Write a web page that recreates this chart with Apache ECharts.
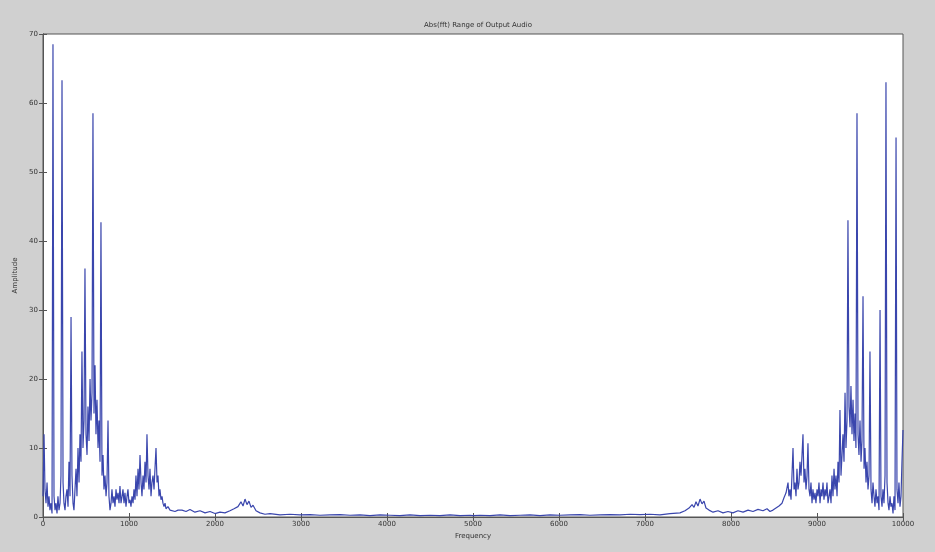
<!DOCTYPE html>
<html>
<head>
<meta charset="utf-8">
<script src="https://cdn.jsdelivr.net/npm/echarts@6/dist/echarts.min.js"></script>
<style>html,body{margin:0;padding:0;background:#d0d0d0;}#chart{width:935px;height:552px;}</style>
</head>
<body>
<div id="chart"></div>
<script>
// Left band (low frequencies)
const leftFreq = [0,12,23,35,47,58,70,81,93,105,116,128,140,151,163,174,186,198,209,221,233,244,256,267,279,291,302,314,326,337,349,360,372,384,395,407,419,430,442,453,465,477,488,500,512,523,535,547,558,570,581,593,605,616,628,640,651,663,674,686,698,709,721,733,744,756,767,779,791,802,814,826,837,849,860,872,884,895,907,919,930,942,953,965,977,988,1000,1012,1023,1035,1047,1058,1070,1081,1093,1105,1116,1128,1140,1151,1163,1174,1186,1198,1209,1221,1233,1244,1256,1267,1279,1291,1302,1314,1326,1337,1349,1360,1372,1384,1395,1407,1419,1430,1453,1477,1500,1535,1570];
const leftMag = [3,12,4,2,5,1.5,3,1,2,0.5,68.5,3,1,2,0.5,3,1,2,6,63.3,5,2,1,3,4,1.5,8,3,29,6,2,1,4,7,3,10,5,12,8,24,10,14,36,12,9,16,11,20,14,18,58.5,15,22,12,17,10,14,8,42.7,6,9,4,6,3,5,14,3,1,2,4,2,3,1.5,4,2.5,3.5,2,4.5,2,3,4,2,3.5,1.5,3,4,2,2.5,1.5,3,2,4,2.5,6,3,7,4,9,5,3,6,4,8,5,12,6,4,7,3,5,6,4,7,10,5,6,3,4,2.5,3,2,1.5,2,1.2,1.5,1,1.2,0.8,1];
// Middle band
const midFreq = [1616,1663,1709,1767,1826,1884,1942,2000,2058,2116,2174,2221,2267,2302,2326,2349,2372,2395,2419,2442,2477,2523,2581,2640,2756,2872,2988,3105,3221,3337,3453,3570,3686,3802,3919,4035,4151,4267,4384,4500,4616,4733,4849,4965,5000,5081,5198,5314,5430,5547,5663,5779,5895,6012,6128,6244,6360,6477,6593,6709,6826,6942,7058,7174,7291,7407,7465,7512,7547,7570,7593,7616,7640,7663,7686,7709,7744,7791,7849,7907,7965,8023,8081,8140,8198,8256,8314,8372,8419];
const midMag = [1.0,0.8,1.1,0.7,0.9,0.6,0.8,0.5,0.7,0.6,0.9,1.2,1.5,2.2,1.6,2.6,1.8,2.3,1.4,1.7,0.9,0.6,0.4,0.5,0.3,0.4,0.3,0.35,0.25,0.3,0.35,0.25,0.3,0.2,0.3,0.25,0.2,0.3,0.2,0.25,0.2,0.3,0.2,0.25,0.2,0.25,0.2,0.3,0.2,0.25,0.3,0.2,0.3,0.25,0.3,0.35,0.25,0.3,0.35,0.3,0.4,0.35,0.4,0.3,0.5,0.6,0.9,1.3,1.8,1.4,2.2,1.6,2.6,1.9,2.3,1.3,1.0,0.7,0.9,0.6,0.8,0.6,0.9,0.7,1.0,0.8,1.1,0.9,1.2];
// Right band (mirror region)
const rightFreq = [8453,8488,8523,8558,8593,8616,8640,8663,8674,8686,8698,8709,8721,8733,8744,8756,8767,8779,8791,8802,8814,8826,8837,8849,8860,8872,8884,8895,8907,8919,8930,8942,8953,8965,8977,8988,9000,9012,9023,9035,9047,9058,9070,9081,9093,9105,9116,9128,9140,9151,9163,9174,9186,9198,9209,9221,9233,9244,9256,9267,9279,9291,9302,9314,9326,9337,9349,9360,9372,9384,9395,9407,9419,9430,9442,9453,9465,9477,9488,9500,9512,9523,9535,9547,9558,9570,9581,9593,9605,9616,9628,9640,9651,9663,9674,9686,9698,9709,9721,9733,9744,9756,9767,9779,9791,9802,9814,9826,9837,9849,9860,9872,9884,9895,9907,9919,9930,9942,9953,9965,9977,9988,10000];
const rightMag = [0.8,1.0,1.3,1.6,2.0,2.8,3.5,5,3,4,2.5,6,10,4,5,3,7,4,5,8,6,9,12,5,7,4,6,10.7,4,3,5,2,4,2.5,3.5,2,4,3,5,2,4,3,5,2.5,4,3,5,2,3,4,2,6,3,7,4,6,3,8,5,15.5,6,9,12,8,18,10,14,43,16,13,19,12,17,11,15,10,58.5,12,9,14,8,11,32,7,10,5,8,4,6,24,4,2,5,3,1.5,4,2,3,1,30,3,1.5,4,2,6,63,5,2,1,3,1.5,2,0.5,3,1,55,4,2,5,1.5,3,8,12.6];

const xTicks = [0,1000,2000,3000,4000,5000,6000,7000,8000,9000,10000];
const yTicks = [0,10,20,30,40,50,60,70];

const freq = leftFreq.concat(midFreq, rightFreq);
const mag = leftMag.concat(midMag, rightMag);
const seriesData = freq.map((f, i) => [f, mag[i]]);

const chart = echarts.init(document.getElementById('chart'));
const lab = { fontSize: 7, color: '#333', fontFamily: 'DejaVu Sans' };
const axLine = { show: true, lineStyle: { color: '#555', width: 1 } };
chart.setOption({
  backgroundColor: '#d0d0d0',
  animation: false,
  title: {
    text: 'Abs(fft) Range of Output Audio',
    left: 473, top: 17, textAlign: 'center',
    textStyle: { fontSize: 7, fontWeight: 'normal', color: '#333', fontFamily: 'DejaVu Sans' }
  },
  grid: { left: 43, right: 32, top: 34, bottom: 35, show: true, backgroundColor: '#ffffff', borderColor: '#555', borderWidth: 1 },
  xAxis: [{
    type: 'value', min: xTicks[0], max: xTicks[xTicks.length - 1], interval: 1000,
    name: 'Frequency', nameLocation: 'middle', nameGap: 14,
    nameTextStyle: lab,
    axisLine: axLine, axisTick: { inside: true, length: 4, lineStyle: { color: '#555' } },
    axisLabel: { ...lab, margin: 4, formatter: v => String(v) }, splitLine: { show: false }
  }, {
    type: 'value', position: 'top', min: xTicks[0], max: xTicks[xTicks.length - 1], interval: 1000,
    axisLine: axLine, axisTick: { inside: true, length: 4, lineStyle: { color: '#555' } },
    axisLabel: { show: false }, splitLine: { show: false }
  }],
  yAxis: [{
    type: 'value', min: yTicks[0], max: yTicks[yTicks.length - 1], interval: 10,
    name: 'Amplitude', nameLocation: 'middle', nameGap: 18, nameRotate: 90,
    nameTextStyle: lab,
    axisLine: axLine, axisTick: { inside: true, length: 4, lineStyle: { color: '#555' } },
    axisLabel: { ...lab, margin: 5, formatter: v => String(v) }, splitLine: { show: false }
  }, {
    type: 'value', position: 'right', min: yTicks[0], max: yTicks[yTicks.length - 1], interval: 10,
    axisLine: axLine, axisTick: { inside: true, length: 4, lineStyle: { color: '#555' } },
    axisLabel: { show: false }, splitLine: { show: false }
  }],
  series: [{
    type: 'line', data: seriesData, showSymbol: false, symbol: 'none',
    lineStyle: { color: '#3a46ad', width: 1.2 }, silent: true
  }]
});
</script>
</body>
</html>
